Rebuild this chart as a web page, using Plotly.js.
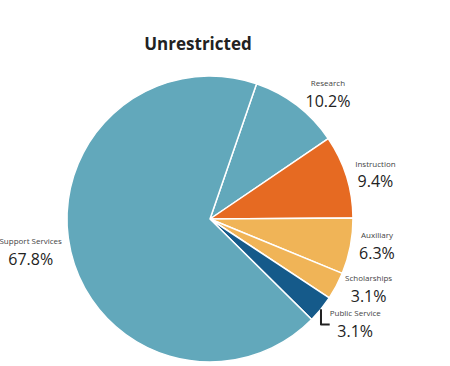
<!DOCTYPE html>
<html>
<head>
<meta charset="utf-8">
<script src="https://cdn.plot.ly/plotly-3.0.1.min.js"></script>
<style>html,body{margin:0;padding:0;background:#fff;}#chart{width:450px;height:366px;}</style>
</head>
<body>
<div id="chart"></div>
<script>
var categories = ["Research", "Instruction", "Auxiliary", "Scholarships", "Public Service", "Support Services"];
var values = [10.2, 9.4, 6.3, 3.1, 3.1, 67.8];
var colors = ["#62a8bb", "#e66a22", "#f0b457", "#f0b457", "#155a8a", "#62a8bb"];

var trace = {
  type: "pie",
  labels: categories,
  values: values,
  sort: false,
  direction: "clockwise",
  rotation: 19,
  marker: {colors: colors, line: {color: "#ffffff", width: 1.5}},
  textposition: "outside",
  texttemplate: "<span style='font-size:8px;fill:#444'>%{label}</span><br>%{value:.1f}%",
  textfont: {family: "Open Sans, sans-serif", size: 16, color: "#222"},
  hoverinfo: "label+percent",
  showlegend: false
};

var layout = {
  width: 450,
  height: 366,
  margin: {l: 0, r: 30, t: 76, b: 4},
  paper_bgcolor: "#ffffff",
  title: {text: "<b>Unrestricted</b>", x: 0.44, xanchor: "center", y: 0.88, yanchor: "middle",
          font: {family: "Open Sans, sans-serif", size: 17, color: "#222"}},
  showlegend: false
};

Plotly.newPlot("chart", [trace], layout, {displayModeBar: false, staticPlot: true});
</script>
</body>
</html>
